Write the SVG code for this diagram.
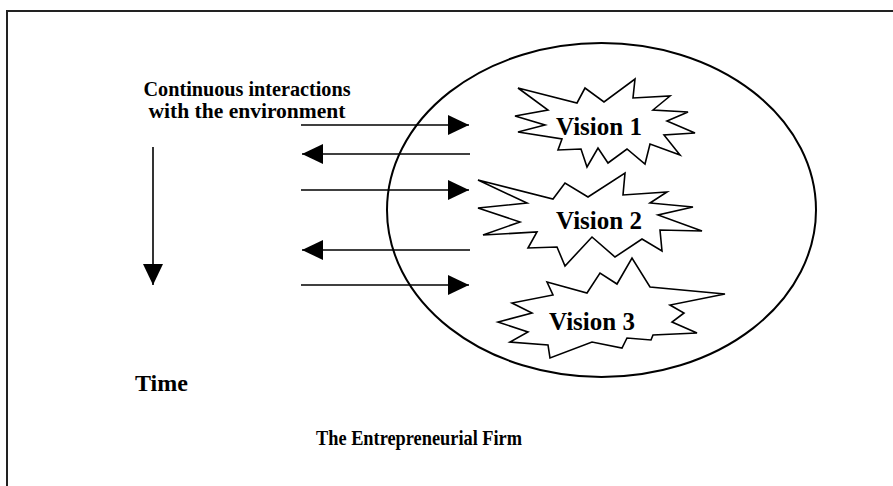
<svg xmlns="http://www.w3.org/2000/svg" width="893" height="486" viewBox="0 0 893 486">
  <style>
    .lbl { font-family: "Liberation Serif", "Times New Roman", serif; font-weight: bold; fill: #000; }
    .mid { font-size: 20px; }
    .big { font-size: 24px; }
    .vis { font-size: 25px; }
    .ln { stroke: #000; stroke-width: 1.6; fill: none; }
    .star { fill: #fff; stroke: #000; stroke-width: 1.6; stroke-linejoin: miter; }
  </style>
  <defs>
    <marker id="head" markerUnits="userSpaceOnUse" markerWidth="22" markerHeight="20" refX="21" refY="10" orient="auto">
      <path d="M0,0 L21,10 L0,20 Z" fill="#000"/>
    </marker>
  </defs>

  <rect width="893" height="486" fill="#fff"/>
  <!-- outer frame (open to the right and bottom) -->
  <path d="M7,486 V11 H893" fill="none" stroke="#222" stroke-width="2"/>

  <!-- the firm -->
  <g id="firm">
    <ellipse cx="601.5" cy="210" rx="214.5" ry="167" fill="none" stroke="#000" stroke-width="2"/>
    <text class="lbl mid" x="316" y="445" textLength="206" lengthAdjust="spacingAndGlyphs">The Entrepreneurial Firm</text>
  </g>

  <g id="vision1">
    <polygon class="star" points="518,88 577,103 585,88 604,102 635,79 633,98 670,96 653,110 688,112 667,121 695,133 664,135 680,155 650,144 645,164 627,149 608,163 598,148 587,167 581,149 558,150 562,139 518,132 545,125 515,116 548,110"/>
    <text class="lbl vis" x="556" y="135">Vision 1</text>
  </g>

  <g id="vision2">
    <polygon class="star" points="478,180 553,199 565,183 588,197 625,173 623,195 667,192 650,203 693,207 658,215 702,231 660,230 662,251 642,239 615,257 592,237 565,266 557,247 528,248 537,232 483,235 520,222 478,208 527,203"/>
    <text class="lbl vis" x="556" y="229">Vision 2</text>
  </g>

  <g id="vision3">
    <polygon class="star" points="547,282 587,293 600,273 617,284 632,258 650,287 725,294 670,305 684,313 672,322 697,333 653,335 651,340 627,338 622,348 592,342 550,358 548,345 510,342 528,332 498,322 532,313 512,303 553,295"/>
    <text class="lbl vis" x="549" y="330">Vision 3</text>
  </g>

  <g id="time">
    <text class="lbl big" x="135" y="391">Time</text>
  </g>

  <g id="interactions">
    <text class="lbl mid" x="247" y="96" text-anchor="middle" textLength="207" lengthAdjust="spacingAndGlyphs">Continuous interactions</text>
    <text class="lbl mid" x="247" y="118" text-anchor="middle" textLength="197" lengthAdjust="spacingAndGlyphs">with the environment</text>
  </g>

  <!-- connectors -->
  <g id="connectors" class="ln" marker-end="url(#head)">
    <line x1="153" y1="147" x2="153" y2="285"/>
    <line x1="301" y1="125" x2="469" y2="125"/>
    <line x1="470" y1="154" x2="302" y2="154"/>
    <line x1="301" y1="190" x2="469" y2="190"/>
    <line x1="470" y1="250" x2="302" y2="250"/>
    <line x1="301" y1="285" x2="469" y2="285"/>
  </g>
</svg>
